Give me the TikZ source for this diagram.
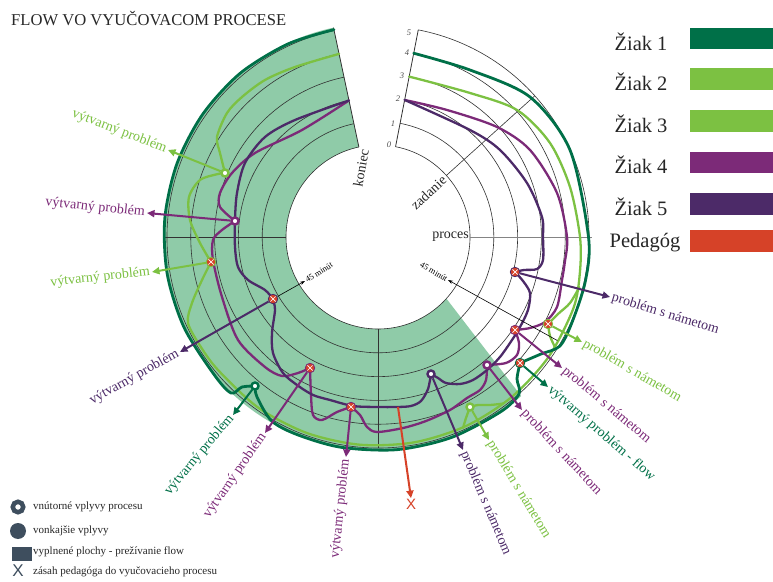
\documentclass[tikz,border=0pt]{standalone}
\usepackage{fontspec}
\setmainfont{Liberation Serif}
\newfontfamily\legsans{Liberation Sans}
\usetikzlibrary{arrows.meta,shapes.misc}
\definecolor{zdkgreen}{RGB}{0,112,72}
\definecolor{zltgreen}{RGB}{124,193,66}
\definecolor{zpurple}{RGB}{124,42,120}
\definecolor{zdkpurple}{RGB}{76,42,104}
\definecolor{zred}{RGB}{214,66,40}
\definecolor{flowfill}{RGB}{143,203,168}
\definecolor{gridc}{RGB}{50,50,50}
\definecolor{legc}{RGB}{62,78,94}
\definecolor{titlec}{RGB}{40,40,40}
\begin{document}
\begin{tikzpicture}[x=1pt,y=1pt,
  traj/.style={line width=2.3pt, line cap=round, line join=round},
  outertraj/.style={line width=2.8pt, line cap=round, line join=round},
  arr/.style={line width=2pt, -{Triangle[length=7.5pt,width=7pt]}},
  thinarr/.style={line width=0.6pt, black, -{Stealth[length=5pt,width=3.5pt]}},
  lbl/.style={font=\fontsize{14}{16}\selectfont, inner sep=2pt},
  wmark/.style={circle, fill=white, draw=#1, line width=2.4pt, minimum size=7pt, inner sep=0pt},
  xmark/.style={circle, fill=zred, draw=#1, line width=0.8pt, minimum size=9.5pt, inner sep=0pt},
  xcross/.style={cross out, draw=white, line width=0.7pt, minimum size=4.5pt, inner sep=0pt},
  gridline/.style={draw=gridc, line width=0.6pt},
  smalltxt/.style={font=\fontsize{8.5}{9}\selectfont, inner sep=1pt},
  axtxt/.style={font=\itshape\fontsize{8.5}{9}\selectfont, text=black!70, inner sep=0pt},
  chtxt/.style={font=\fontsize{14}{16}\selectfont, text=black!85, inner sep=1pt},
  legtxt/.style={anchor=west, font=\fontsize{11}{13}\selectfont, text=black!85, inner sep=0pt},
  keytxt/.style={font=\fontsize{20.5}{24}\selectfont, text=black!85, inner sep=0pt},
]
\useasboundingbox (0,0) rectangle (773,581);
\fill[white] (0,0) rectangle (773,581);

% ---------- title, key and symbol legend (pixel frame, y downwards) ----------
\begin{scope}[shift={(0,581)}, yscale=-1]
  \node[anchor=west, font=\fontsize{16.6}{19}\selectfont, text=titlec, inner sep=0pt] (title) at (11,19) {FLOW VO VYUČOVACOM PROCESE};

  \node[keytxt] (k1) at (641,42)  {Žiak 1};
  \node[keytxt] (k2) at (641,82)  {Žiak 2};
  \node[keytxt] (k3) at (641,124) {Žiak 3};
  \node[keytxt] (k4) at (641,165) {Žiak 4};
  \node[keytxt] (k5) at (641,207) {Žiak 5};
  \node[keytxt] (k6) at (645,243) {Pedagóg};
  \fill[zdkgreen]  (690,28)  rectangle (773,49);
  \fill[zltgreen]  (690,68)  rectangle (773,90);
  \fill[zltgreen]  (690,110) rectangle (773,132);
  \fill[zpurple]   (690,152) rectangle (773,173);
  \fill[zdkpurple] (690,193) rectangle (773,215);
  \fill[zred]      (690,230) rectangle (773,252);

  \node[circle, draw=legc, fill=white, line width=4.5pt, minimum size=10.5pt, inner sep=0pt] (sym1) at (18,507) {};
  \node[circle, fill=legc, minimum size=16pt, inner sep=0pt] (sym2) at (18,531) {};
  \node[rectangle, fill=legc, minimum width=20pt, minimum height=14pt, inner sep=0pt] (sym3) at (22,553.5) {};
  \node[text=legc, font=\legsans\fontsize{17}{17}\selectfont, inner sep=0pt] (sym4) at (18,571) {X};
  \node[legtxt] (t1) at (33,507) {vnútorné vplyvy procesu};
  \node[legtxt] (t2) at (33,531) {vonkajšie vplyvy};
  \node[legtxt] (t3) at (33,552) {vyplnené plochy - prežívanie flow};
  \node[legtxt] (t4) at (33,572) {zásah pedagóga do vyučovacieho procesu};
\end{scope}

% ---------- polar chart: origin at the centre, angles run clockwise ----------
\begin{scope}[shift={(378,344)}, yscale=-1]
  % flow area
  \fill[flowfill] (42:92) -- (48:214) arc[start angle=48, end angle=258, radius=214]
        -- (258:92) arc[start angle=258, end angle=42, radius=92] -- cycle;
  % level rings 0..5
  \foreach \rr in {92,115.8,139.6,163.4,187.2,211}
    \draw[gridline] (-79:\rr) arc[start angle=-79, end angle=258, radius=\rr];
  % radial lines
  \draw[gridline, draw=gridc!60] (0:92) -- (0:214);
  \draw[gridline] (90:92) -- (90:211);
  \draw[gridline] (180:92) -- (180:214);
  \draw[gridline] (-42:92) -- (-42:211);
  \draw[gridline, line width=0.8pt] (-79:92) -- (-79:211);
  \draw[gridline, line width=0.8pt] (258:92) -- (258:214);

  % axis values
  \node[axtxt] (v0) at (11,-92) {0};
  \node[axtxt] (v1) at (15,-113) {1};
  \node[axtxt] (v2) at (20,-138) {2};
  \node[axtxt] (v3) at (24,-161) {3};
  \node[axtxt] (v4) at (29,-184) {4};
  \node[axtxt] (v5) at (31,-204) {5};
  \node[chtxt, anchor=east] (proces) at (92,0) {proces};
  \node[chtxt, rotate=43] (zadanie) at (50.5,-44.5) {zadanie};
  \node[chtxt, rotate=80] (koniec) at (-17,-69) {koniec};

  % Ziak 2 / Ziak 3 (light green)
  \draw[traj, zltgreen] plot[smooth] coordinates {(-79:163.4) (92,-144) (139,-127) (172,-94) (192,-50) (0:202) (10:205) (20:208) (35:208.5) (50:208.5) (65:208.5) (80:208.5) (95:208.5) (110:208.5) (125:208.5) (140:208) (148:208.5) (-190,86) (-186,66) (-176,43) (-167,25)}
    -- plot[smooth] coordinates {(-167,25) (-178,6) (-188,-17) (-189,-40) (-178,-57) (-160,-63) (-153,-64)}
    -- plot[smooth] coordinates {(-153,-64) (-158,-84) (-161,-100) (-151,-124) (-136,-140) (-113,-157) (-83,-170) (258:187.2)};
  \draw[traj, zltgreen] plot[smooth] coordinates {(14:207.5) (192,66) (180,77) (170,87)}
    -- plot[smooth] coordinates {(170,87) (172,99) (32:209)};
  \draw[traj, zltgreen] plot[smooth] coordinates {(53:208.5) (112,168) (100,168) (92,170)}
    -- plot[smooth] coordinates {(92,170) (88,181) (66:209)};

  % Ziak 1 (dark green)
  \draw[outertraj, zdkgreen] plot[smooth] coordinates {(-79:187.2) (92,-167) (152,-140) (192,-87) (0:210.5) (12:212) (24:212) (31:212) (163,117) (142,126)}
    -- plot[smooth] coordinates {(142,126) (139,142) (141,157) (55:213.5) (70:213.5) (85:213.5) (100:213.5) (112:213.5) (120:212.5) (-121,160) (-123,149)}
    -- plot[smooth] coordinates {(-123,149) (-136,150) (-147,156) (140:214) (155:214) (170:214) (185:214) (200:214) (215:214) (230:214) (245:213) (258:212)};

  % Ziak 4 (purple)
  \draw[traj, zpurple] plot[smooth] coordinates {(-79:139.6) (69,-127) (119,-110) (152,-87) (179,-44) (0:189) (8:188.5) (184,43) (179,70) (167,85) (152,91) (137,93)}
    -- plot[smooth] coordinates {(137,93) (141,106) (139,118) (128,126) (109,128)}
    -- plot[smooth] coordinates {(109,128) (108,143) (102,153) (89,161) (72,173) (48,184) (25,191) (-1,195) (-11,190) (-18,178) (-27,170)}
    -- plot[smooth] coordinates {(-27,170) (-41,175) (-56,183) (-65,178) (-67,158) (-68,131)}
    -- plot[smooth] coordinates {(-68,131) (-80,136) (-96,139) (-113,130) (-140,103) (-156,60) (-165,23) (-165,3) (-156,-7) (-143,-16)}
    -- plot[smooth] coordinates {(-143,-16) (-158,-30) (-158,-44) (-146,-64) (-123,-84) (-76,-107) (258:139.6)};

  % Ziak 5 (dark purple)
  \draw[traj, zdkpurple] plot[smooth] coordinates {(-79:139.6) (92,-107) (122,-87) (149,-54) (164,-20) (165,0) (165,23) (159,32) (146,33) (137,35)}
    -- plot[smooth] coordinates {(137,35) (145,44) (152,56) (150,73) (142,90) (134,103) (122,120) (109,133) (95,143) (82,147) (68,146) (60,141) (53,137)}
    -- plot[smooth] coordinates {(53,137) (50,152) (43,164) (33,169) (19,170) (-1,170) (-25,169) (-48,163) (-65,158) (-81,148) (-95,136) (-105,116) (-106,96) (-103,73) (-105,62)}
    -- plot[smooth] coordinates {(-105,62) (-113,53) (-130,43) (-140,30) (-143,10) (-143,-17) (-141,-44) (-133,-74) (-113,-100) (-83,-117) (258:139.6)};

  % events on the trajectories
  \node[wmark=zltgreen]  (mA) at (-153,-64) {};
  \node[wmark=zpurple]   (mB) at (-143,-16) {};
  \node[xmark=zltgreen]  (mC) at (-167,25) {};
  \node[xmark=zdkpurple] (mD) at (-105,62) {};
  \node[wmark=zdkgreen]  (mE) at (-123,149) {};
  \node[xmark=zpurple]   (mF) at (-68,131) {};
  \node[xmark=zpurple]   (mG) at (-27,170) {};
  \node[wmark=zdkpurple] (mH) at (53,137) {};
  \node[wmark=zltgreen]  (mI) at (92,170) {};
  \node[wmark=zpurple]   (mJ) at (109,128) {};
  \node[xmark=zdkgreen]  (mK) at (142,126) {};
  \node[xmark=zpurple]   (mL) at (137,93) {};
  \node[xmark=zltgreen]  (mM) at (170,87) {};
  \node[xmark=zdkpurple] (mN) at (137,35) {};
  \node[xcross] (cC) at (mC) {};
  \node[xcross] (cD) at (mD) {};
  \node[xcross] (cF) at (mF) {};
  \node[xcross] (cG) at (mG) {};
  \node[xcross] (cK) at (mK) {};
  \node[xcross] (cL) at (mL) {};
  \node[xcross] (cM) at (mM) {};
  \node[xcross] (cN) at (mN) {};

  % event labels
  \node[lbl, text=zltgreen,  anchor=east, rotate=-21] (lA) at (-210,-87) {výtvarný problém};
  \node[lbl, text=zpurple,   anchor=east, rotate=-6]  (lB) at (-231,-24) {výtvarný problém};
  \node[lbl, text=zltgreen,  anchor=east, rotate=6]   (lC) at (-226,35)  {výtvarný problém};
  \node[lbl, text=zdkpurple, anchor=east, rotate=29]  (lD) at (-198,115) {výtvarný problém};
  \node[lbl, text=zdkgreen,  anchor=east, rotate=50]  (lE) at (-145,178) {výtvarný problém};
  \node[lbl, text=zpurple,   anchor=east, rotate=55]  (lF) at (-113,196) {výtvarný problém};
  \node[lbl, text=zpurple,   anchor=east, rotate=84]  (lG) at (-32,220)  {výtvarný problém};
  \node[lbl, text=zdkpurple, anchor=west, rotate=-67] (lH) at (85,213)   {problém s námetom};
  \node[lbl, text=zltgreen,  anchor=west, rotate=-59] (lI) at (111,203)  {problém s námetom};
  \node[lbl, text=zpurple,   anchor=west, rotate=-47] (lJ) at (144,173)  {problém s námetom};
  \node[lbl, text=zdkgreen,  anchor=west, rotate=-41] (lK) at (170,150)  {výtvarný problém - flow};
  \node[lbl, text=zpurple,   anchor=west, rotate=-40] (lL) at (184,131)  {problém s námetom};
  \node[lbl, text=zltgreen,  anchor=west, rotate=-30] (lM) at (204,105)  {problém s námetom};
  \node[lbl, text=zdkpurple, anchor=west, rotate=-17] (lN) at (232,60)   {problém s námetom};

  \draw[arr, zltgreen]  (mA) -- (lA.east);
  \draw[arr, zpurple]   (mB) -- (lB.east);
  \draw[arr, zltgreen]  (mC) -- (lC.east);
  \draw[arr, zdkpurple] (mD) -- (lD.east);
  \draw[arr, zdkgreen]  (mE) -- (lE.east);
  \draw[arr, zpurple]   (mF) -- (lF.east);
  \draw[arr, zpurple]   (mG) -- (lG.east);
  \draw[arr, zdkpurple] (mH) -- (lH.west);
  \draw[arr, zltgreen]  (mI) -- (lI.west);
  \draw[arr, zpurple]   (mJ) -- (lJ.west);
  \draw[arr, zdkgreen]  (mK) -- (lK.west);
  \draw[arr, zpurple]   (mL) -- (lL.west);
  \draw[arr, zltgreen]  (mM) -- (lM.west);
  \draw[arr, zdkpurple] (mN) -- (lN.west);

  % 45 minute marks
  \coordinate (t45) at (30:207);
  \node[smalltxt, anchor=east, rotate=-31] (min45r) at (70,43) {45 minút};
  \node[smalltxt, anchor=west, rotate=32] (min45l) at (-73,44) {45 minút};
  \draw[thinarr] (t45) -- (min45r.east);
  \draw[thinarr] (mD) -- (min45l.west);

  % teacher intervention
  \coordinate (ped) at (20,170);
  \node[text=zred, font=\legsans\fontsize{15}{15}\selectfont, inner sep=0.5pt] (pX) at (33,267) {X};
  \draw[arr, zred] (ped) -- (pX.north);
\end{scope}
\end{tikzpicture}
\end{document}
